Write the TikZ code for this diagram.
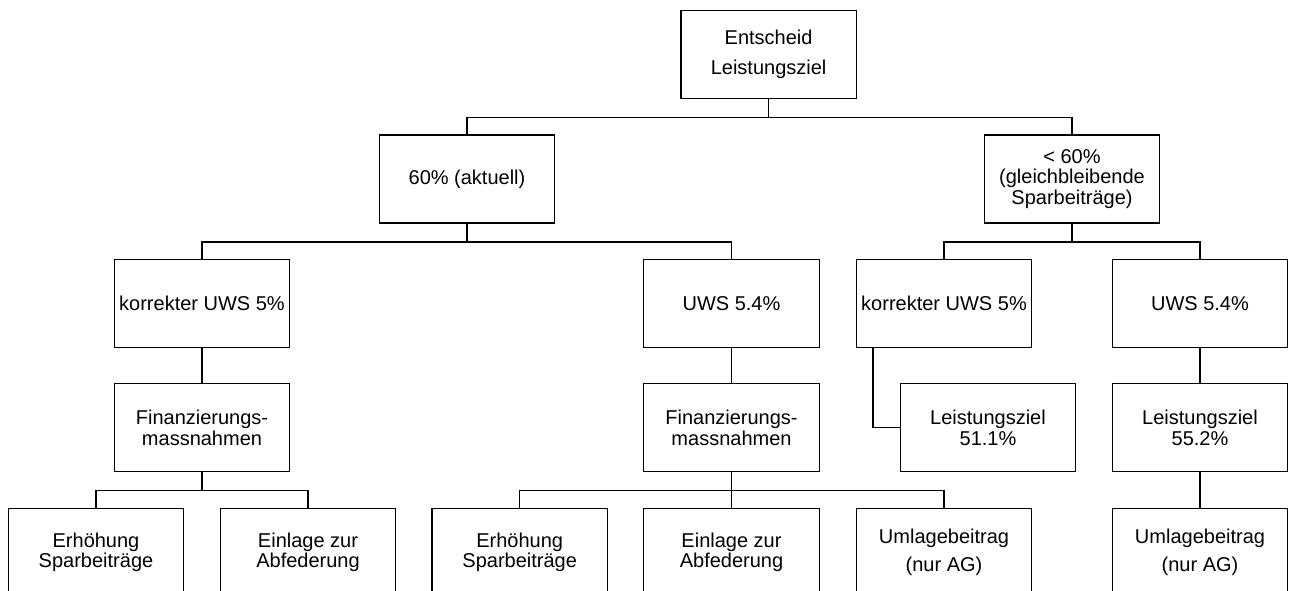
\documentclass[tikz,border=0pt]{standalone}
\usepackage{fontspec}
\setmainfont{Liberation Sans}
\begin{document}
\begin{tikzpicture}[x=1pt,y=-1pt,
  box/.style={draw, line width=1.3pt, minimum width=175.5pt, minimum height=88pt, inner sep=0pt, align=center,
    font=\fontsize{20}{20.7}\selectfont},
  wide/.style={font=\fontsize{20}{30}\selectfont},
  mid/.style={font=\fontsize{20}{27.7}\selectfont},
  link/.style={line width=1.3pt}]
\useasboundingbox (0,0) rectangle (1289,591);
\clip (0,0) rectangle (1289,591);
% level 1
\node[box,wide] (top) at (768.6,54.7) {Entscheid\\Leistungsziel};
% level 2
\node[box] (a) at (467,178.9) {60\% (aktuell)};
\node[box] (b) at (1072,178.9) {< 60\%\\(gleichbleibende\\Sparbeiträge)};
% level 3
\node[box] (a1) at (202,303.3) {korrekter UWS 5\%};
\node[box] (a2) at (731.5,303.3) {UWS 5.4\%};
\node[box] (b1) at (944,303.3) {korrekter UWS 5\%};
\node[box] (b2) at (1200,303.3) {UWS 5.4\%};
% level 4
\node[box] (fa1) at (202,427.7) {Finanzierungs-\\massnahmen};
\node[box] (fa2) at (731.5,427.7) {Finanzierungs-\\massnahmen};
\node[box] (lb1) at (988,427.7) {Leistungsziel\\51.1\%};
\node[box] (lb2) at (1200,427.7) {Leistungsziel\\55.2\%};
% level 5
\node[box] (e1) at (96,552.3) {Erhöhung\\Sparbeiträge};
\node[box] (z1) at (308,552.3) {Einlage zur\\Abfederung};
\node[box] (e2) at (519.7,552.3) {Erhöhung\\Sparbeiträge};
\node[box] (z2) at (731.5,552.3) {Einlage zur\\Abfederung};
\node[box,mid] (u2) at (944,552.3) {Umlagebeitrag\\(nur AG)};
\node[box,mid] (u3) at (1200,552.3) {Umlagebeitrag\\(nur AG)};
% connectors
\draw[link] (top.south) -- ++(0,18) -| (a.north);
\draw[link] (top.south) -- ++(0,18) -| (b.north);
\draw[link] (a.south) -- ++(0,18.3) -| (a1.north);
\draw[link] (a.south) -- ++(0,18.3) -| (a2.north);
\draw[link] (b.south) -- ++(0,18.3) -| (b1.north);
\draw[link] (b.south) -- ++(0,18.3) -| (b2.north);
\draw[link] (a1.south) -- (fa1.north);
\draw[link] (a2.south) -- (fa2.north);
\draw[link] (b2.south) -- (lb2.north);
\draw[link] ([xshift=17.4pt]b1.south west) |- (lb1.west);
\draw[link] (lb2.south) -- (u3.north);
\draw[link] (fa1.south) -- ++(0,18.3) -| (e1.north);
\draw[link] (fa1.south) -- ++(0,18.3) -| (z1.north);
\draw[link] (fa2.south) -- ++(0,18.3) -| (e2.north);
\draw[link] (fa2.south) -- (z2.north);
\draw[link] (fa2.south) -- ++(0,18.3) -| (u2.north);
\end{tikzpicture}
\end{document}
